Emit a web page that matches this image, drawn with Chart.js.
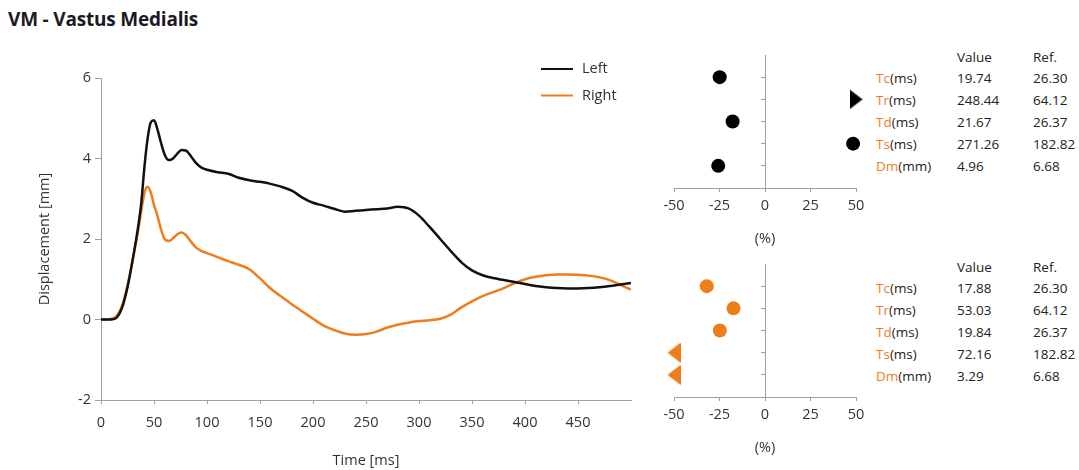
<!DOCTYPE html>
<html>
<head>
<meta charset="utf-8">
<script src="https://cdn.jsdelivr.net/npm/chart.js@4.4.1/dist/chart.umd.min.js"></script>
<style>
  html, body { margin:0; padding:0; background:#fff; width:1079px; height:470px; overflow:hidden; }
  body { position:relative; font-family:"Open Sans", sans-serif; }
  #title { position:absolute; left:8px; top:6px; font-weight:700; font-size:19px; color:#1b1b24; letter-spacing:-0.2px; white-space:nowrap; }
  canvas { position:absolute; }
  .tbl { position:absolute; left:876px; font-size:13.5px; color:#222; }
  .row { position:relative; height:22px; line-height:22px; white-space:nowrap; }
  .row.hdr { height:21px; }
  .row span { position:absolute; top:0; }
  .c1 { left:0; } .c2 { left:81px; } .c3 { left:157px; }
  .abbr { color:#ef7d1b; }
</style>
</head>
<body>
<div id="title">VM - Vastus Medialis</div>
<canvas id="main" width="650" height="470" style="left:0;top:0;width:650px;height:470px"></canvas>
<canvas id="dotL" width="225" height="209" style="left:650px;top:40px;width:225px;height:209px"></canvas>
<canvas id="dotR" width="225" height="209" style="left:650px;top:249px;width:225px;height:209px"></canvas>
<div class="tbl" id="tblL" style="top:46px"></div>
<div class="tbl" id="tblR" style="top:256px"></div>
<script>
// ---------- data ----------
const timeMs = [0,5,10,15,20,25,30,35,38,41,44,47,50,53,56,60,64,68,72,76,80,85,90,95,100,110,120,130,140,150,160,170,180,190,200,210,220,230,240,250,260,270,280,290,300,310,320,330,340,350,360,370,380,390,400,410,420,430,440,450,460,470,480,490,500];
const leftMm = [0,0,0,0.05,0.3,0.8,1.5,2.3,2.9,3.8,4.5,4.9,4.95,4.75,4.45,4.1,3.96,4.0,4.12,4.21,4.2,4.05,3.88,3.77,3.72,3.66,3.62,3.52,3.46,3.42,3.37,3.3,3.2,3.03,2.9,2.83,2.75,2.68,2.7,2.72,2.74,2.76,2.8,2.76,2.58,2.3,2.0,1.7,1.42,1.22,1.1,1.03,0.98,0.93,0.88,0.83,0.8,0.78,0.77,0.77,0.78,0.8,0.83,0.87,0.91];
const rightMm = [0,0,0.02,0.1,0.35,0.85,1.5,2.2,2.7,3.15,3.3,3.15,2.85,2.6,2.3,2.0,1.95,2.02,2.12,2.16,2.1,1.93,1.78,1.7,1.65,1.55,1.45,1.36,1.25,1.02,0.77,0.57,0.38,0.2,0.02,-0.15,-0.26,-0.35,-0.38,-0.36,-0.3,-0.2,-0.13,-0.08,-0.04,-0.02,0.02,0.12,0.3,0.45,0.58,0.68,0.78,0.9,1.0,1.06,1.1,1.12,1.12,1.11,1.09,1.05,0.98,0.86,0.74];
const seriesNames = ['Left','Right'];
const xTickStep = 50, xMin = 0, xMax = 500;
const yTickStep = 2, yMin = -2, yMax = 6;

const metricNames = ['Tc','Tr','Td','Ts','Dm'];
const metricUnits = ['(ms)','(ms)','(ms)','(ms)','(mm)'];
const leftValues  = ['19.74','248.44','21.67','271.26','4.96'];
const rightValues = ['17.88','53.03','19.84','72.16','3.29'];
const refValues   = ['26.30','64.12','26.37','182.82','6.68'];
const leftPct  = [-24.9, 50, -17.8, 48.4, -25.7];
const leftOut  = [false, true, false, false, false];
const rightPct = [-32.0, -17.3, -24.8, -50, -50];
const rightOut = [false, false, false, true, true];
const pctTicks = [-50,-25,0,25,50];

// ---------- styles ----------
const FONT = '"Open Sans", sans-serif';
const BLACK = '#111111', ORANGE = '#ef7d1b', AXIS = '#a0a0a0', TXT = '#333333';

function buildTable(id, values) {
  const el = document.getElementById(id);
  let html = '<div class="row hdr"><span class="c2">Value</span><span class="c3">Ref.</span></div>';
  metricNames.forEach((m, i) => {
    html += '<div class="row"><span class="c1"><span class="abbr" style="position:static">' + m + '</span>' + metricUnits[i] +
            '</span><span class="c2">' + values[i] + '</span><span class="c3">' + refValues[i] + '</span></div>';
  });
  el.innerHTML = html;
}
buildTable('tblL', leftValues);
buildTable('tblR', rightValues);

function triangle(dir, color) {
  const c = document.createElement('canvas');
  c.width = 13; c.height = 20;
  const g = c.getContext('2d');
  g.fillStyle = color;
  g.beginPath();
  if (dir === 'right') { g.moveTo(0,0); g.lineTo(13,10); g.lineTo(0,20); }
  else { g.moveTo(13,0); g.lineTo(0,10); g.lineTo(13,20); }
  g.closePath(); g.fill();
  return c;
}

const legendPlugin = {
  id: 'lineLegend',
  afterDraw(chart) {
    const ctx = chart.ctx;
    const ys = [69, 95.5];
    ctx.save();
    chart.data.datasets.forEach((ds, i) => {
      ctx.strokeStyle = ds.borderColor;
      ctx.lineWidth = 2;
      ctx.beginPath(); ctx.moveTo(541, ys[i]); ctx.lineTo(573, ys[i]); ctx.stroke();
      ctx.fillStyle = TXT;
      ctx.font = '14.5px ' + FONT;
      ctx.textBaseline = 'middle';
      ctx.textAlign = 'left';
      ctx.fillText(ds.label, 582, ys[i]);
    });
    ctx.restore();
  }
};

function draw() {
  Chart.defaults.font.family = FONT;
  new Chart(document.getElementById('main'), {
    type: 'line',
    data: {
      datasets: [
        { label: seriesNames[0], data: timeMs.map((t, i) => ({x: t, y: leftMm[i]})), borderColor: BLACK, borderWidth: 2.5, pointRadius: 0, cubicInterpolationMode: 'monotone', fill: false },
        { label: seriesNames[1], data: timeMs.map((t, i) => ({x: t, y: rightMm[i]})), borderColor: ORANGE, borderWidth: 2.5, pointRadius: 0, cubicInterpolationMode: 'monotone', fill: false }
      ]
    },
    options: {
      responsive: false, animation: false, events: [],
      layout: { padding: { top: 78, right: 19, left: 0, bottom: 0 } },
      plugins: { legend: { display: false }, tooltip: { enabled: false } },
      scales: {
        x: {
          type: 'linear', min: xMin, max: xMax,
          afterBuildTicks: s => { s.ticks = s.ticks.filter(t => t.value < xMax); },
          afterFit: s => { s.height = 70; },
          ticks: { stepSize: xTickStep, color: TXT, font: { size: 14.5 }, padding: 10, maxRotation: 0, autoSkip: false },
          grid: { drawOnChartArea: false, drawTicks: true, tickLength: 4, color: AXIS },
          border: { color: AXIS, width: 1 },
          title: { display: true, text: 'Time [ms]', color: TXT, font: { size: 14.5 }, padding: { top: 0, bottom: 0.5 } }
        },
        y: {
          type: 'linear', min: yMin, max: yMax,
          afterFit: s => { s.width = 101; },
          ticks: { stepSize: yTickStep, color: TXT, font: { size: 14.5 }, padding: 4 },
          grid: { drawOnChartArea: false, drawTicks: true, tickLength: 6, color: AXIS },
          border: { color: AXIS, width: 1 },
          title: { display: true, text: 'Displacement [mm]', color: TXT, font: { size: 14.5 }, padding: { top: 36.5, bottom: 0 } }
        }
      }
    },
    plugins: [legendPlugin]
  });

  function dotChart(id, pct, out, color, dir) {
    const tri = triangle(dir, color);
    new Chart(document.getElementById(id), {
      type: 'scatter',
      data: {
        datasets: [{
          data: pct.map((v, i) => ({x: v, y: i + 1})),
          backgroundColor: color, borderColor: color, borderWidth: 0,
          pointRadius: 7, pointStyle: out.map(o => o ? tri : 'circle'),
          clip: false
        }]
      },
      options: {
        responsive: false, animation: false, events: [],
        layout: { padding: { top: 15, right: 19, left: 24, bottom: 0 } },
        plugins: { legend: { display: false }, tooltip: { enabled: false } },
        scales: {
          x: {
            type: 'linear', min: pctTicks[0], max: pctTicks[pctTicks.length - 1],
            afterBuildTicks: s => { s.ticks = pctTicks.map(v => ({value: v})); },
            afterFit: s => { s.height = 61; },
            ticks: { color: TXT, font: { size: 14.5 }, padding: 5, maxRotation: 0, autoSkip: false },
            grid: { drawOnChartArea: false, drawTicks: true, tickLength: 4, color: AXIS },
            border: { color: AXIS, width: 1 },
            title: { display: true, text: '(%)', color: TXT, font: { size: 14.5 }, padding: { top: 0, bottom: 1.3 } }
          },
          y: {
            type: 'linear', position: 'center', min: 0, max: 6, reverse: true,
            afterBuildTicks: s => { s.ticks = metricNames.map((m, i) => ({value: i + 1})); },
            ticks: { display: false },
            grid: { drawOnChartArea: false, drawTicks: true, tickLength: 4, color: AXIS },
            border: { color: AXIS, width: 1 }
          }
        }
      }
    });
  }
  dotChart('dotL', leftPct, leftOut, '#000000', 'right');
  dotChart('dotR', rightPct, rightOut, ORANGE, 'left');
}

if (document.fonts && document.fonts.load) {
  Promise.all([document.fonts.load('14.5px "Open Sans"'), document.fonts.load('700 19px "Open Sans"')]).then(draw, draw);
} else { draw(); }
</script>
</body>
</html>
